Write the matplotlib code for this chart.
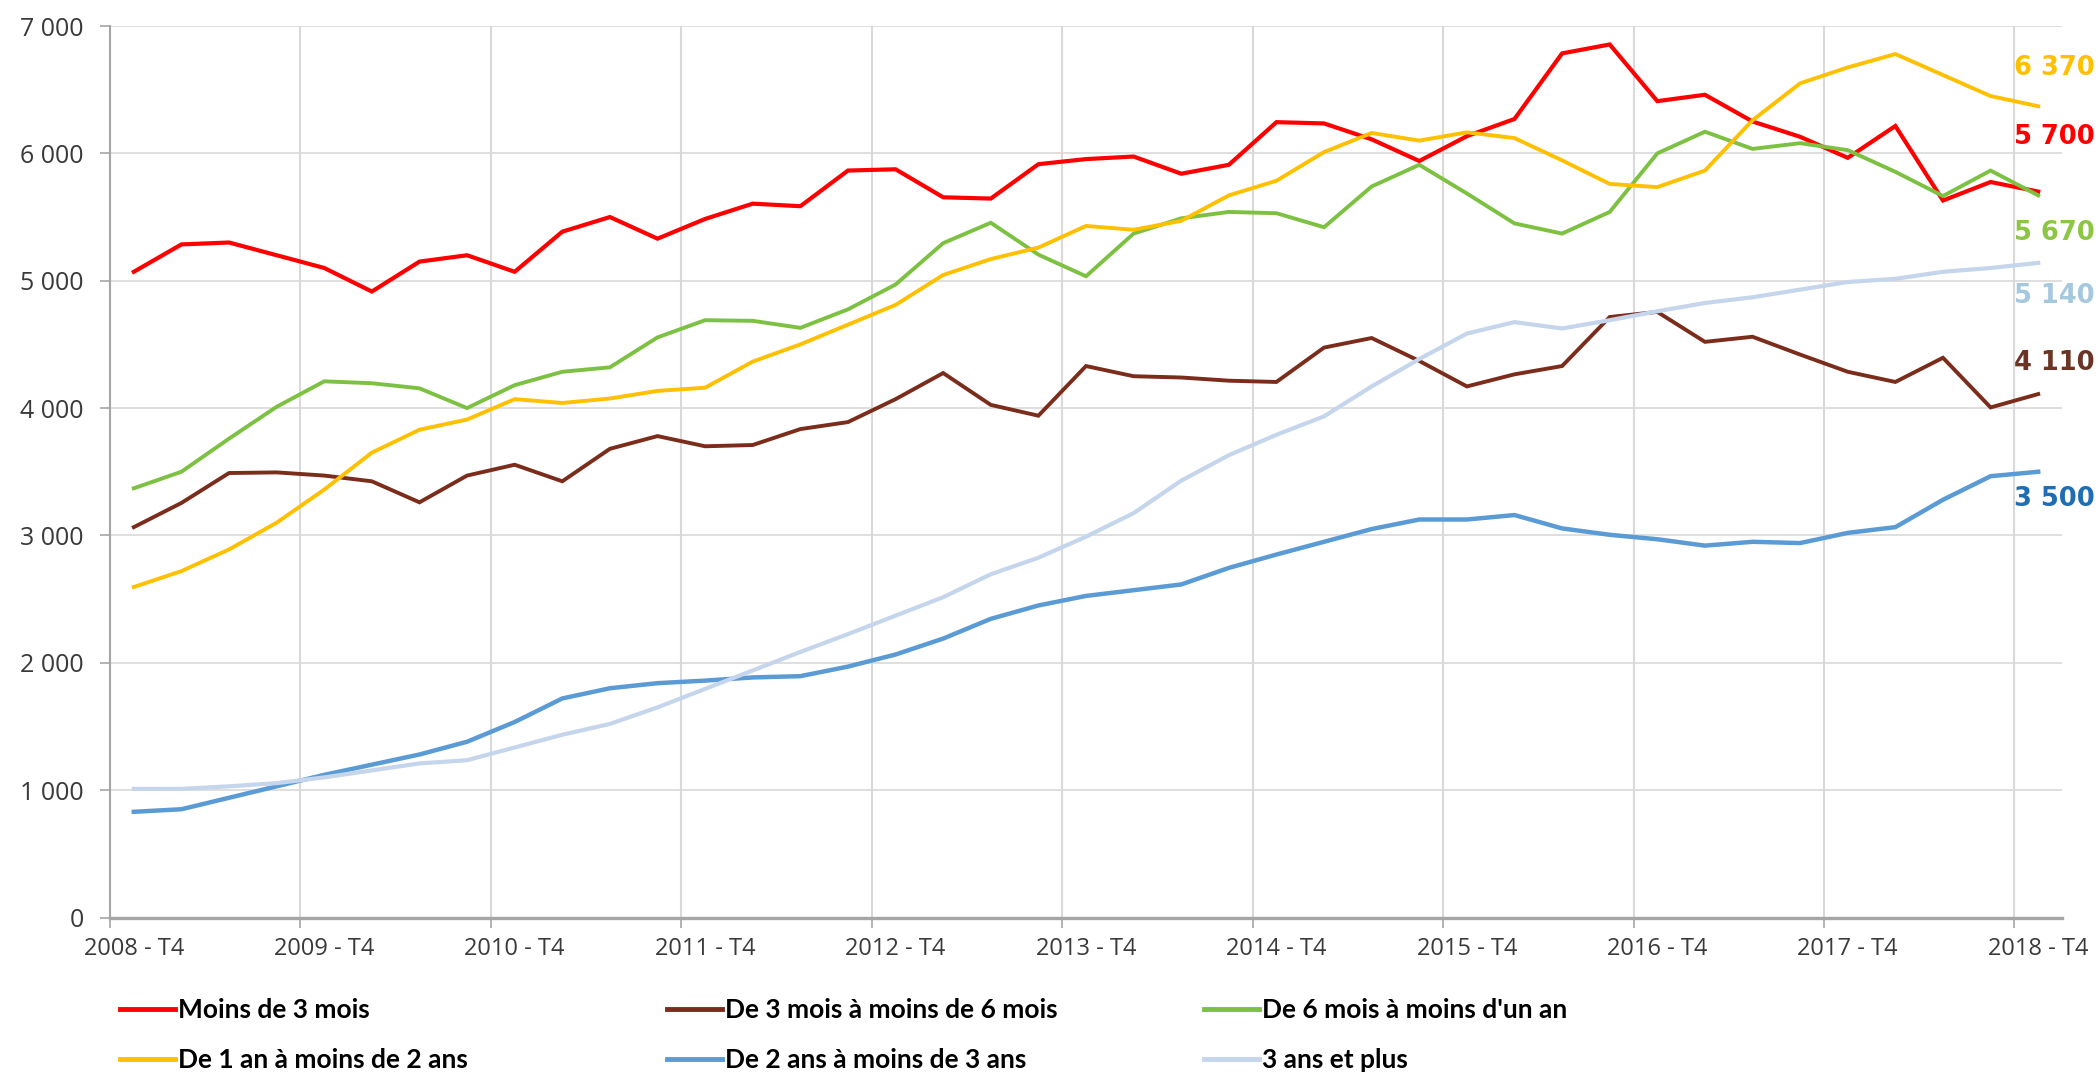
import matplotlib
matplotlib.use("Agg")
import matplotlib.pyplot as plt
import numpy as np

# trimestres 2008-T4 -> 2018-T4
periodes = ["2008 - T4"] + [f"{a} - T{t}" for a in range(2009, 2019) for t in range(1, 5)]
etiquettes_x = [p for p in periodes if p.endswith("T4")]

series_noms = [
    "Moins de 3 mois",
    "De 3 mois à moins de 6 mois",
    "De 6 mois à moins d'un an",
    "De 1 an à moins de 2 ans",
    "De 2 ans à moins de 3 ans",
    "3 ans et plus",
]

moins_3m = [5070, 5285, 5300, 5200, 5100, 4915, 5150, 5200, 5070, 5385, 5500,
            5330, 5485, 5605, 5585, 5865, 5875, 5655, 5645, 5915, 5955,
            5975, 5840, 5910, 6245, 6235, 6110, 5940, 6135, 6270, 6785,
            6855, 6410, 6460, 6250, 6130, 5965, 6215, 5630, 5775, 5700]
de_3m_6m = [3065, 3255, 3490, 3495, 3470, 3425, 3260, 3470, 3555, 3425, 3680,
            3780, 3700, 3710, 3835, 3890, 4070, 4275, 4025, 3940, 4330,
            4250, 4240, 4215, 4205, 4475, 4550, 4370, 4170, 4265, 4330,
            4715, 4755, 4520, 4560, 4420, 4285, 4205, 4395, 4005, 4110]
de_6m_1a = [3370, 3500, 3760, 4010, 4210, 4195, 4155, 4000, 4180, 4285, 4320,
            4555, 4690, 4685, 4630, 4775, 4970, 5295, 5455, 5205, 5035,
            5370, 5490, 5540, 5530, 5420, 5740, 5910, 5685, 5450, 5370,
            5540, 6000, 6170, 6035, 6080, 6025, 5855, 5665, 5865, 5670]
de_1a_2a = [2595, 2720, 2890, 3100, 3360, 3650, 3830, 3910, 4070, 4040, 4075,
            4135, 4160, 4365, 4500, 4655, 4810, 5045, 5170, 5260, 5430,
            5400, 5470, 5670, 5785, 6010, 6160, 6100, 6165, 6120, 5945,
            5760, 5735, 5865, 6260, 6550, 6675, 6780, 6615, 6450, 6370]
de_2a_3a = [830, 850, 940, 1030, 1120, 1200, 1280, 1380, 1535, 1720, 1800,
            1840, 1860, 1885, 1895, 1970, 2065, 2190, 2345, 2450, 2525,
            2570, 2615, 2745, 2850, 2950, 3050, 3125, 3125, 3160, 3055,
            3005, 2970, 2920, 2950, 2940, 3020, 3065, 3280, 3465, 3500]
plus_3a = [1010, 1010, 1030, 1055, 1100, 1155, 1210, 1235, 1335, 1435, 1520,
           1650, 1795, 1940, 2085, 2225, 2370, 2515, 2695, 2825, 2990,
           3175, 3430, 3630, 3790, 3935, 4170, 4385, 4585, 4675, 4625,
           4690, 4760, 4825, 4870, 4930, 4990, 5015, 5070, 5100, 5140]

valeurs = [moins_3m, de_3m_6m, de_6m_1a, de_1a_2a, de_2a_3a, plus_3a]
couleurs = ["#FF0000", "#7B2C1A", "#7DC142", "#FFC000", "#5B9BD5", "#C5D5EC"]
couleurs_etiq = ["#FF0000", "#6B3526", "#8DC544", "#FFC000", "#1F6EB4", "#A5C8DE"]
epaisseurs = [3.0, 2.8, 2.8, 2.8, 3.2, 3.0]
# decalage (pixels) des etiquettes de fin de serie
decal_y = [55, 31, -38, 38, -27, -33]

W, H = 2098, 1072
fig = plt.figure(figsize=(W / 100, H / 100), dpi=100)
ax = fig.add_axes([110 / W, 1 - 917.5 / H, (2062 - 110) / W, (917.5 - 26) / H])

x = np.arange(len(periodes))
lignes = []
for nom, v, c, lw in zip(series_noms, valeurs, couleurs, epaisseurs):
    l, = ax.plot(x, v, color=c, lw=lw, label=nom, solid_joinstyle="miter", zorder=3)
    lignes.append(l)

for v, c, dy in zip(valeurs, couleurs_etiq, decal_y):
    ax.annotate(f"{v[-1]:,}".replace(",", " "), xy=(x[-1], v[-1]),
                xytext=(-24, dy), textcoords="offset pixels",
                ha="left", va="center", color=c, fontsize=18.5,
                fontweight="bold", family="DejaVu Sans", annotation_clip=False)

ax.set_xlim(-0.5, len(periodes) - 0.5)
ax.set_ylim(0, 7000)

yt = np.arange(0, 7001, 1000)
ax.set_yticks(yt)
ax.set_yticklabels([f"{t:,}".replace(",", " ") for t in yt], family="Open Sans",
                   fontsize=18, color="#3A3A3A")
ax.set_xticks([periodes.index(e) for e in etiquettes_x])
ax.set_xticklabels(etiquettes_x, family="Open Sans", fontsize=17, color="#3A3A3A")
ax.set_xticks(np.arange(-0.5, len(periodes) - 1, 4), minor=True)

ax.tick_params(axis="x", which="major", length=0, pad=14)
ax.tick_params(axis="x", which="minor", length=7, width=1.2, color="#A6A6A6")
ax.tick_params(axis="y", length=7, width=1.2, color="#A6A6A6", pad=12)

ax.yaxis.grid(True, color="#D9D9D9", lw=1.2, zorder=0)
ax.xaxis.grid(True, which="minor", color="#D9D9D9", lw=1.5, zorder=0)
ax.set_axisbelow(True)

for s in ["top", "right"]:
    ax.spines[s].set_visible(False)
ax.spines["left"].set_color("#A6A6A6")
ax.spines["left"].set_linewidth(1.5)
ax.spines["bottom"].set_color("#A6A6A6")
ax.spines["bottom"].set_linewidth(2.4)
ax.spines["bottom"].set_zorder(4)

# legende : 3 colonnes de 2
col_x = [120, 667, 1204]
for k, cx in enumerate(col_x):
    hs = [lignes[k], lignes[k + 3]]
    leg = fig.legend(handles=hs, labels=[h.get_label() for h in hs],
                     loc="center left", bbox_to_anchor=(cx / W, 1 - 1035 / H),
                     frameon=False, ncol=1, borderpad=0, borderaxespad=0,
                     handlelength=2.08, handletextpad=0.11, labelspacing=1.0,
                     prop={"family": "Lato", "weight": "bold", "size": 19})
    for lh in leg.get_lines():
        lh.set_linewidth(3.5)

fig.savefig("out.png", dpi=100)
